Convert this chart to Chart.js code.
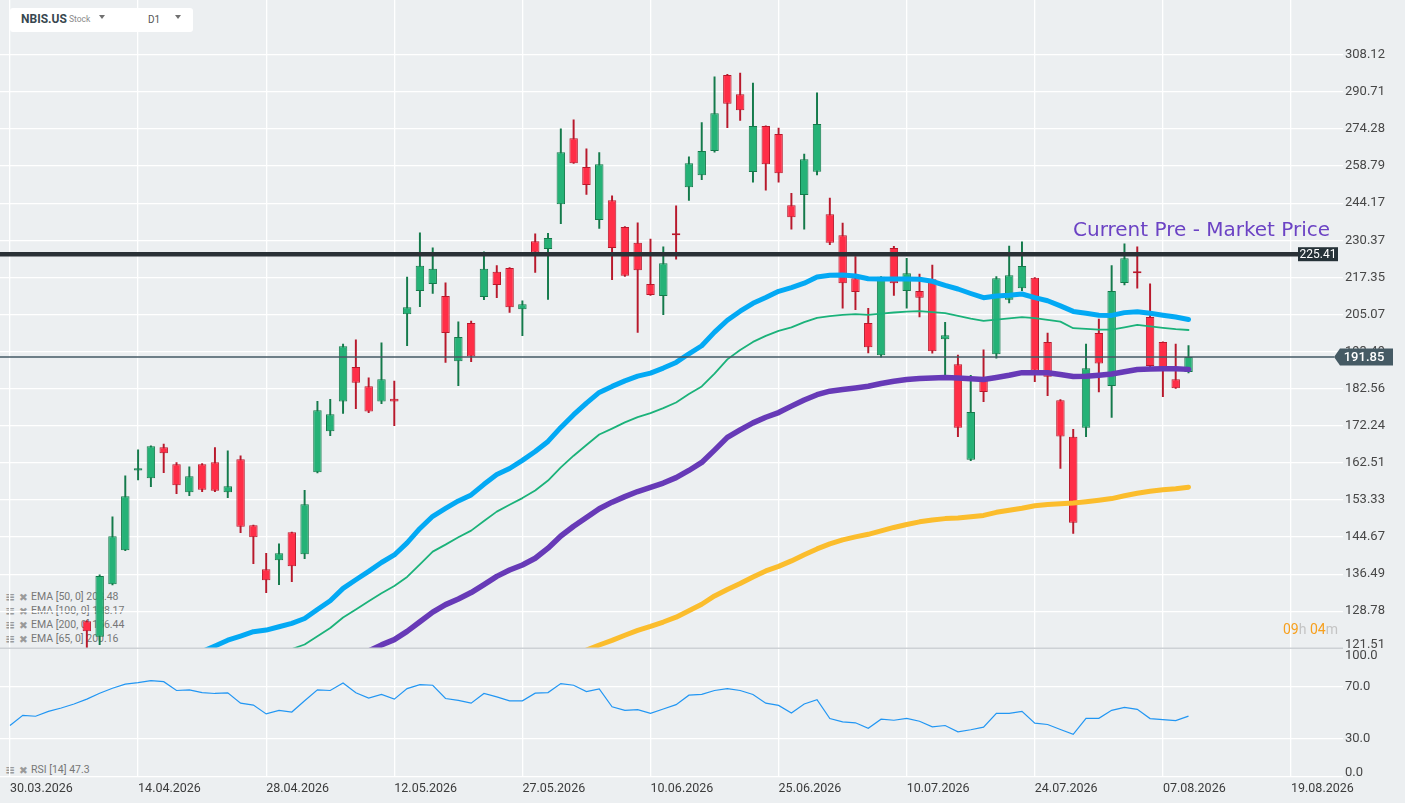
<!DOCTYPE html>
<html lang="en">
<head>
<meta charset="utf-8">
<title>NBIS.US D1</title>
<script src="https://cdn.jsdelivr.net/npm/chart.js@4.4.1/dist/chart.umd.min.js"></script>
<style>
  html, body { margin: 0; padding: 0; }
  body { position: relative; width: 1405px; height: 803px; overflow: hidden; background: #eceff1; font-family: Roboto, sans-serif; }
  canvas { position: absolute; left: 0; top: 0; z-index: 2; }
  .legend { position: absolute; left: 5px; z-index: 1; font-size: 10.5px; line-height: 14px; color: #777; white-space: nowrap; }
  .legend div { height: 14px; }
  .legend .ic { display: inline-block; width: 14px; height: 14px; line-height: 14px; vertical-align: top; color: #9a9a9a; font-family: "DejaVu Sans"; font-size: 12px; font-weight: bold; }
  .legend .ix { display: inline-block; width: 12px; height: 14px; line-height: 14px; vertical-align: top; color: #9a9a9a; font-family: "DejaVu Sans"; font-size: 10.5px; }
  #head { position: absolute; left: 10px; top: 8px; width: 183px; height: 24px; background: #fff; border-radius: 3px; z-index: 3; }
  #head span { position: absolute; white-space: nowrap; }
  .tri { position: absolute; width: 0; height: 0; border-left: 3.5px solid transparent; border-right: 3.5px solid transparent; border-top: 4px solid #707070; }
  #note { position: absolute; left: 1073px; top: 219px; z-index: 3; font-family: "DejaVu Sans"; font-size: 20px; line-height: 20px; color: #6b42c4; white-space: nowrap; }
  #timer { position: absolute; left: 1283px; top: 622px; z-index: 3; font-size: 14px; line-height: 14px; color: #c4c4c4; white-space: nowrap; }
  #timer b { font-weight: normal; color: #f7a01e; }
</style>
</head>
<body>
<div id="head">
  <span style="left:11px;top:4.6px;font-size:12px;line-height:12px;font-weight:bold;color:#37474f">NBIS.US</span>
  <span style="left:59px;top:7.2px;font-size:8.5px;line-height:8.5px;color:#8a8a8a">Stock</span>
  <div class="tri" style="left:89px;top:7px"></div>
  <span style="left:138px;top:6.6px;font-size:10px;line-height:10px;color:#555">D1</span>
  <div class="tri" style="left:165px;top:7px"></div>
</div>
<div class="legend" id="emaLegend" style="top:589.5px"></div>
<div class="legend" id="rsiLegend" style="top:762.7px"></div>
<div id="note">Current Pre - Market Price</div>
<div id="timer"><b>09</b>h <b>04</b>m</div>
<canvas id="priceChart" width="1405" height="803"></canvas>
<canvas id="rsiChart" width="1405" height="803"></canvas>
<script>
// x axis: one slot per trading day, labels every 10 sessions
const tickLabels = ['30.03.2026', '14.04.2026', '28.04.2026', '12.05.2026', '27.05.2026', '10.06.2026',
  '25.06.2026', '10.07.2026', '24.07.2026', '07.08.2026', '19.08.2026'];
const priceTicks = [121.51, 128.78, 136.49, 144.67, 153.33, 162.51, 172.24, 182.56, 193.49, 205.07,
  217.35, 230.37, 244.17, 258.79, 274.28, 290.71, 308.12];
const rsiTicks = [0, 30, 70, 100];

// daily candles, first one visible is session 6
const candleFrom = 6;
const opens = [
  126.76, 123.74, 134.34, 141.70, 160.55, 158.65, 166.55, 162.17, 155.19, 162.17,
  162.67, 155.19, 163.44, 147.37, 137.54, 139.49, 145.76, 140.81, 160.12, 170.77,
  178.90, 188.90, 183.24, 178.90, 179.67, 205.18, 212.76, 215.15, 211.12, 190.59,
  202.39, 210.78, 219.26, 220.60, 206.78, 230.06, 227.25, 243.80, 270.40, 258.40,
  237.80, 245.30, 235.20, 229.50, 215.15, 211.12, 232.97, 250.40, 255.10, 265.00,
  298.60, 289.70, 256.40, 275.60, 272.20, 243.40, 247.30, 256.50, 240.00, 232.20,
  217.10, 202.40, 192.40, 227.60, 212.80, 212.80, 216.70, 197.30, 189.70, 163.30,
  185.60, 192.70, 209.90, 213.70, 217.20, 196.40, 179.30, 169.30, 171.70, 199.20,
  183.30, 215.50, 219.50, 204.30, 196.40, 185.30, 187.40];
const highs = [
  126.90, 136.32, 149.30, 159.22, 165.84, 166.90, 167.40, 162.57, 161.48, 162.30,
  166.45, 165.58, 164.29, 147.40, 141.03, 143.11, 145.80, 155.68, 179.00, 179.57,
  195.82, 197.07, 185.66, 196.15, 184.78, 217.46, 233.08, 227.67, 215.50, 202.72,
  203.00, 226.25, 221.40, 220.70, 209.50, 232.72, 232.90, 274.40, 278.30, 265.90,
  264.30, 247.00, 235.40, 236.80, 230.80, 228.00, 243.20, 262.60, 277.10, 297.70,
  298.80, 299.50, 294.80, 275.70, 274.70, 248.00, 263.70, 290.30, 246.10, 236.70,
  224.60, 207.10, 217.60, 228.20, 224.00, 218.50, 221.60, 202.60, 192.40, 186.40,
  194.00, 217.60, 228.30, 229.80, 217.30, 199.20, 179.50, 171.30, 195.80, 203.60,
  221.40, 229.10, 228.00, 215.20, 196.50, 195.80, 195.30];
const lows = [
  119.00, 122.20, 134.20, 141.60, 158.22, 156.57, 160.05, 154.85, 154.37, 155.34,
  155.34, 153.89, 145.66, 138.76, 132.58, 134.26, 134.89, 139.84, 160.00, 169.60,
  175.59, 176.94, 175.83, 178.35, 172.27, 195.30, 207.60, 211.93, 190.20, 183.40,
  190.47, 209.93, 210.60, 205.72, 198.40, 219.10, 210.00, 236.50, 259.90, 247.60,
  234.70, 216.60, 217.70, 199.40, 211.30, 205.05, 223.65, 245.20, 253.40, 264.50,
  274.90, 277.98, 252.40, 249.20, 252.40, 234.40, 234.40, 255.30, 228.80, 207.10,
  206.60, 193.10, 191.80, 211.30, 207.10, 204.30, 192.98, 186.40, 169.30, 163.10,
  178.90, 191.50, 208.80, 212.90, 184.60, 180.60, 161.10, 145.50, 169.30, 181.60,
  174.50, 214.80, 213.70, 188.90, 180.30, 182.60, 187.10];
const closes = [
  124.80, 136.11, 144.84, 154.23, 161.15, 166.81, 164.99, 156.91, 159.15, 155.82,
  155.58, 156.67, 147.05, 144.62, 135.19, 141.03, 138.19, 152.30, 176.50, 175.40,
  195.12, 184.30, 176.11, 185.28, 178.90, 207.44, 221.33, 220.30, 199.24, 197.99,
  191.97, 220.30, 214.81, 207.44, 208.40, 226.00, 231.20, 264.50, 260.00, 251.20,
  259.60, 227.60, 217.90, 219.80, 211.45, 222.27, 232.24, 260.00, 265.00, 281.20,
  285.40, 282.50, 275.60, 259.60, 255.96, 238.90, 261.60, 276.50, 229.50, 215.40,
  212.40, 194.80, 217.60, 215.40, 218.80, 210.50, 193.60, 198.50, 171.70, 176.00,
  181.60, 217.10, 218.10, 221.30, 187.80, 186.00, 169.40, 147.97, 188.50, 189.90,
  212.80, 224.00, 218.80, 189.20, 188.70, 182.70, 191.85];

// moving averages, each starts where it enters the visible price range
const ema50From = 15;
const ema50 = [
  120.90, 121.95, 123.06, 123.86, 124.71, 125.03, 125.68, 126.35, 127.32, 129.13,
  130.91, 133.48, 135.29, 137.09, 139.01, 140.66, 143.34, 146.63, 149.46, 151.30,
  153.10, 154.55, 157.14, 159.55, 161.08, 163.14, 165.42, 168.07, 171.80, 175.26,
  178.47, 181.49, 183.21, 184.80, 186.17, 187.08, 188.56, 190.23, 192.83, 195.27,
  199.48, 203.24, 206.13, 208.70, 210.61, 212.68, 213.88, 215.40, 217.51, 218.12,
  218.19, 217.82, 216.90, 216.80, 216.85, 216.80, 216.70, 216.04, 214.65, 213.44,
  211.94, 210.55, 211.08, 211.38, 211.78, 210.58, 209.53, 207.86, 206.07, 205.45,
  204.84, 204.78, 205.68, 205.97, 205.49, 204.84, 204.26, 203.48];
const ema65From = 22;
const ema65 = [
  121.38, 122.24, 123.81, 125.43, 127.53, 129.15, 130.81, 132.46, 133.97, 135.89,
  138.62, 141.40, 142.96, 144.63, 146.13, 148.35, 150.55, 152.17, 153.78, 155.64,
  158.07, 161.35, 164.35, 167.12, 169.89, 171.47, 173.15, 174.60, 175.70, 177.06,
  178.64, 181.05, 183.21, 186.92, 191.14, 194.00, 196.45, 198.30, 199.87, 200.97,
  202.62, 203.99, 204.53, 204.95, 205.18, 204.95, 205.34, 205.72, 206.01, 206.17,
  205.82, 205.50, 204.63, 203.74, 203.04, 203.45, 203.83, 204.22, 203.93, 203.35,
  202.81, 200.72, 200.50, 200.25, 200.25, 200.97, 201.76, 201.29, 200.81, 200.40,
  200.16];
const ema100From = 28;
const ema100 = [
  121.00, 122.16, 123.18, 124.77, 126.66, 128.60, 130.12, 131.28, 132.61, 134.28,
  136.02, 137.37, 138.47, 139.94, 142.17, 144.92, 147.14, 149.18, 151.22, 152.80,
  154.13, 155.37, 156.38, 157.44, 158.79, 160.59, 162.63, 165.79, 169.13, 171.12,
  173.03, 174.56, 175.85, 177.63, 179.36, 180.84, 181.84, 182.33, 182.76, 183.25,
  184.06, 184.72, 185.22, 185.51, 185.65, 185.80, 185.65, 185.42, 185.22, 185.80,
  186.44, 187.20, 187.20, 187.20, 186.68, 186.09, 186.15, 186.44, 186.79, 187.47,
  188.14, 188.26, 188.32, 188.35, 188.17];
const ema200From = 45;
const ema200 = [
  121.19, 122.14, 123.02, 124.02, 124.97, 125.74, 126.62, 127.59, 128.89, 130.20,
  131.90, 133.25, 134.51, 135.89, 137.18, 138.16, 139.36, 140.72, 142.00, 143.12,
  144.02, 144.70, 145.29, 146.07, 146.86, 147.55, 148.16, 148.58, 148.91, 149.05,
  149.33, 149.66, 150.39, 150.87, 151.34, 151.94, 152.22, 152.41, 152.58, 152.89,
  153.25, 153.66, 154.34, 154.94, 155.43, 155.79, 156.04, 156.44];

// RSI(14) from the first session
const rsi14 = [
  40.0, 47.9, 47.2, 51.0, 53.6, 56.7, 60.5, 65.1, 69.0, 72.1,
  73.3, 74.9, 74.1, 67.2, 67.7, 65.6, 64.9, 65.4, 57.4, 55.9,
  49.0, 51.8, 50.5, 59.2, 67.7, 67.2, 73.1, 65.4, 61.3, 64.1,
  60.5, 68.7, 71.8, 71.3, 61.0, 59.5, 57.4, 64.9, 62.3, 59.2,
  59.2, 65.1, 65.6, 72.6, 71.3, 66.4, 68.5, 54.6, 51.8, 52.3,
  49.5, 52.8, 56.2, 63.6, 64.2, 67.2, 68.7, 67.2, 64.1, 57.4,
  55.6, 49.7, 56.7, 60.0, 45.4, 42.8, 42.1, 37.9, 44.9, 44.1,
  45.6, 43.3, 39.0, 40.0, 35.1, 36.7, 38.7, 49.5, 49.5, 51.0,
  41.8, 40.8, 36.9, 33.1, 45.6, 45.6, 51.8, 54.1, 52.6, 45.4,
  44.6, 43.8, 47.3];

const levelPrice = 225.41;

// ---- layout ----
const W = 1405, H = 803;
const SPLIT = 648.3;          // border between price and RSI panes
const RSI_BOTTOM = 777;
const AXIS_W = 62;
const X_MIN = -0.78, X_MAX = 104.06;
const PRICE_MIN = 121.51, PRICE_MAX = 335.8;

const GRID = '#ffffff';
const UP = '#25b277', UP_LINE = '#147a4b';
const DOWN = '#ff2e47', DOWN_LINE = '#b8192c';

Chart.defaults.font.family = 'Roboto';

const tickPositions = tickLabels.map((_, k) => k * 10);
const series = (from, values) => values.map((v, k) => ({x: from + k, y: v}));
const isUp = k => closes[k] >= opens[k];

const legendRow = txt => '<div><span class="ic">&#8801;</span><span class="ix">&#10006;</span>' + txt + '</div>';
document.getElementById('emaLegend').innerHTML =
  legendRow('EMA [50, 0] ' + ema50[ema50.length - 1].toFixed(2)) +
  legendRow('EMA [100, 0] ' + ema100[ema100.length - 1].toFixed(2)) +
  legendRow('EMA [200, 0] ' + ema200[ema200.length - 1].toFixed(2)) +
  legendRow('EMA [65, 0] ' + ema65[ema65.length - 1].toFixed(2));
document.getElementById('rsiLegend').innerHTML = legendRow('RSI [14] ' + rsi14[rsi14.length - 1].toFixed(1));

function edgeFont(edgeValue) {
  return ctx => ({family: 'Roboto', size: 13,
    lineHeight: ctx.tick && ctx.tick.value === edgeValue ? 0.62 : 1.2});
}

function xScale(showLabels) {
  return {
    type: 'linear', min: X_MIN, max: X_MAX, bounds: 'data', offset: false,
    afterBuildTicks: s => { s.ticks = tickPositions.map(v => ({value: v})); },
    afterFit: s => { s.height = showLabels ? 20 : 0; s.paddingLeft = 0; s.paddingRight = 0; },
    ticks: {
      display: showLabels, autoSkip: false, maxRotation: 0, minRotation: 0,
      align: 'start', padding: 4, color: '#3c3c3c', font: {size: 12.5},
      callback: v => tickLabels[Math.round(v / 10)]
    },
    grid: {color: GRID, lineWidth: 1.3, drawTicks: false, offset: false},
    border: {display: false}
  };
}

const priceMarks = {
  id: 'priceMarks',
  afterDatasetsDraw(chart) {
    const {ctx, chartArea: a, scales: {y}} = chart;
    const lastPrice = closes[closes.length - 1];
    ctx.save();
    // resistance line with its value box
    const yl = y.getPixelForValue(levelPrice);
    ctx.strokeStyle = '#2a3136';
    ctx.lineWidth = 4.5;
    ctx.beginPath(); ctx.moveTo(0, yl); ctx.lineTo(a.right - 45, yl); ctx.stroke();
    ctx.fillStyle = '#263238';
    ctx.fillRect(a.right - 45, yl - 7, 40, 14);
    ctx.fillStyle = '#ffffff';
    ctx.font = '12px Roboto';
    ctx.textAlign = 'center';
    ctx.textBaseline = 'middle';
    ctx.fillText(levelPrice.toFixed(2), a.right - 25, yl + 0.5);
    // last price line and badge
    const yp = y.getPixelForValue(lastPrice);
    ctx.strokeStyle = '#455a64';
    ctx.lineWidth = 1.3;
    ctx.beginPath(); ctx.moveTo(0, yp); ctx.lineTo(a.right - 9, yp); ctx.stroke();
    ctx.fillStyle = '#455a64';
    ctx.beginPath();
    ctx.moveTo(a.right - 9, yp);
    ctx.lineTo(a.right - 3, yp - 8.5);
    ctx.lineTo(a.right + 50, yp - 8.5);
    ctx.lineTo(a.right + 50, yp + 8.5);
    ctx.lineTo(a.right - 3, yp + 8.5);
    ctx.closePath();
    ctx.fill();
    ctx.fillStyle = '#ffffff';
    ctx.font = '500 13px Roboto';
    ctx.fillText(lastPrice.toFixed(2), a.right + 21, yp + 0.5);
    ctx.restore();
  }
};

const paneBorder = {
  id: 'paneBorder',
  afterDraw(chart) {
    const {ctx, chartArea: a} = chart;
    ctx.save();
    ctx.strokeStyle = '#cdd1d5';
    ctx.lineWidth = 1.5;
    ctx.beginPath(); ctx.moveTo(0, a.top); ctx.lineTo(a.right, a.top); ctx.stroke();
    ctx.restore();
  }
};

const lineStyle = {type: 'line', pointRadius: 0, borderJoinStyle: 'round', borderCapStyle: 'round', clip: 0, order: 1};

new Chart(document.getElementById('priceChart'), {
  type: 'bar',
  data: {
    datasets: [
      Object.assign({label: 'EMA 65', data: series(ema65From, ema65), borderColor: '#1bb27a', borderWidth: 1.8}, lineStyle),
      Object.assign({label: 'EMA 200', data: series(ema200From, ema200), borderColor: '#fbbd2d', borderWidth: 5}, lineStyle),
      Object.assign({label: 'EMA 100', data: series(ema100From, ema100), borderColor: '#673ab7', borderWidth: 5.5}, lineStyle),
      Object.assign({label: 'EMA 50', data: series(ema50From, ema50), borderColor: '#03a9f4', borderWidth: 5}, lineStyle),
      {
        label: 'body',
        data: opens.map((o, k) => ({x: candleFrom + k, y: [o, closes[k]]})),
        backgroundColor: c => isUp(c.dataIndex) ? UP : DOWN,
        borderColor: c => isUp(c.dataIndex) ? UP_LINE : DOWN_LINE,
        borderWidth: 1, borderSkipped: false,
        barPercentage: 0.66, categoryPercentage: 1, grouped: false, clip: 0, order: 3
      },
      {
        label: 'wick',
        data: lows.map((l, k) => ({x: candleFrom + k, y: [l, highs[k]]})),
        backgroundColor: c => isUp(c.dataIndex) ? UP_LINE : DOWN_LINE,
        barThickness: 1.3, grouped: false, clip: 0, order: 4
      }
    ]
  },
  options: {
    responsive: false,
    animation: false,
    events: [],
    layout: {padding: {left: 0, right: 0, top: 0, bottom: H - SPLIT}},
    plugins: {legend: {display: false}, tooltip: {enabled: false}},
    scales: {
      x: xScale(false),
      y: {
        type: 'logarithmic', position: 'right', min: PRICE_MIN, max: PRICE_MAX, bounds: 'data',
        afterBuildTicks: s => { s.ticks = priceTicks.map(v => ({value: v})); },
        afterFit: s => { s.width = AXIS_W; s.paddingTop = 0; s.paddingBottom = 0; },
        ticks: {
          padding: 2, color: '#474747', font: edgeFont(PRICE_MIN),
          callback: v => v === PRICE_MIN ? [v.toFixed(2), ''] : v.toFixed(2)
        },
        grid: {color: c => c.tick && c.tick.value === PRICE_MIN ? 'rgba(0,0,0,0)' : GRID, lineWidth: 1.3, drawTicks: false},
        border: {display: false}
      }
    }
  },
  plugins: [priceMarks]
});

new Chart(document.getElementById('rsiChart'), {
  type: 'line',
  data: {
    datasets: [{
      label: 'RSI 14', data: series(0, rsi14),
      borderColor: '#2196f3', borderWidth: 1.2, pointRadius: 0, clip: 0
    }]
  },
  options: {
    responsive: false,
    animation: false,
    events: [],
    layout: {padding: {left: 0, right: 0, top: SPLIT, bottom: H - RSI_BOTTOM - 20}},
    plugins: {legend: {display: false}, tooltip: {enabled: false}},
    scales: {
      x: xScale(true),
      y: {
        type: 'linear', position: 'right', min: 0, max: 100, bounds: 'data',
        afterBuildTicks: s => { s.ticks = rsiTicks.map(v => ({value: v})); },
        afterFit: s => { s.width = AXIS_W; s.paddingTop = 0; s.paddingBottom = 0; },
        ticks: {
          padding: 2, color: '#474747', font: edgeFont(0),
          callback: v => v === 100 ? ['', v.toFixed(1)] : (v === 0 ? [v.toFixed(1), ''] : v.toFixed(1))
        },
        grid: {color: c => c.tick && c.tick.value === 100 ? 'rgba(0,0,0,0)' : GRID, lineWidth: 1.3, drawTicks: false},
        border: {display: false}
      }
    }
  },
  plugins: [paneBorder]
});
</script>
</body>
</html>
